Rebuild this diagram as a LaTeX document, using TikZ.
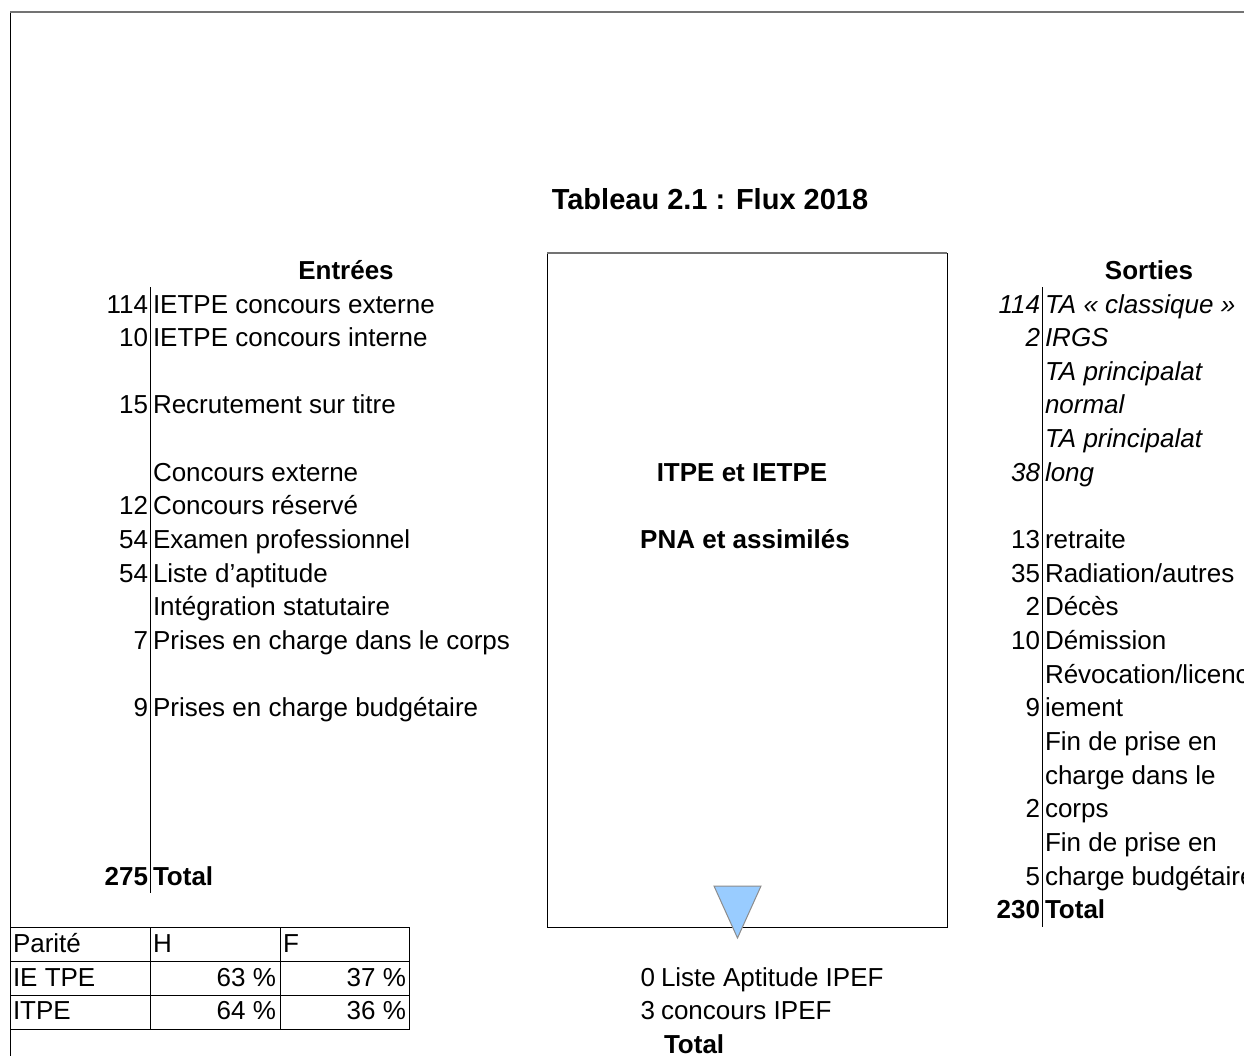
\documentclass[tikz,border=0pt]{standalone}
\usepackage{fontspec}
\setmainfont{Liberation Sans}
\begin{document}
\begin{tikzpicture}[x=0.5pt,y=-0.5pt,
  every node/.style={inner sep=0pt, outer sep=0pt, font=\fontsize{13}{15}\selectfont},
  num/.style={anchor=base east},
  txt/.style={anchor=base west},
  hdr/.style={anchor=base, font=\fontsize{13}{15}\selectfont\bfseries},
  it/.style={font=\fontsize{13}{15}\selectfont\itshape},
  bf/.style={font=\fontsize{13}{15}\selectfont\bfseries},
  rule/.style={line width=0.5pt, black},
  grayrule/.style={line width=0.6pt, black!55}]
\useasboundingbox (0,0) rectangle (1244,1056);
\clip (0,0) rectangle (1244,1056);
\fill[white] (0,0) rectangle (1244,1056);
% page frame
\draw[rule] (10,12) -- (10,1060);
\draw[grayrule] (10,12) -- (1250,12);
% title
\node[anchor=base, font=\fontsize{14.5}{17}\selectfont\bfseries] (title) at (710,209) {Tableau 2.1 : Flux 2018};
% central box
\coordinate (boxNW) at (547,253);
\coordinate (boxSE) at (947,927);
\draw[rule] (boxNW) rectangle (boxSE);
\draw[grayrule] (547,253) -- (947,253);
\node[hdr] (itpe) at (742,{313+33.65*5}) {ITPE et IETPE};
\node[hdr] (pna) at (745,{313+33.65*7}) {PNA et assimilés};
% triangle
\draw[draw=black!45, fill={rgb,255:red,153;green,204;blue,255}, line width=0.5pt]
  (714,886) -- (761,886) -- (737.5,938) -- cycle;
% Entrees
\newcommand\entrow[3]{%
  \node[num] (en#1) at (148,{313+33.65*#1}) {#2};
  \node[txt] (et#1) at (153,{313+33.65*#1}) {#3};}
\node[hdr] (enthdr) at (346,{313-33.65}) {Entrées};
\draw[rule] (150,287) -- (150,893);
\entrow{0}{114}{IETPE concours externe}
\entrow{1}{10}{IETPE concours interne}
\entrow{3}{15}{Recrutement sur titre}
\node[txt] (et5) at (153,{313+33.65*5}) {Concours externe};
\entrow{6}{12}{Concours réservé}
\entrow{7}{54}{Examen professionnel}
\entrow{8}{54}{Liste d’aptitude}
\node[txt] (et9) at (153,{313+33.65*9}) {Intégration statutaire};
\entrow{10}{7}{Prises en charge dans le corps}
\entrow{12}{9}{Prises en charge budgétaire}
\node[num,bf] (en17) at (148,{313+33.65*17}) {275};
\node[txt,bf] (et17) at (153,{313+33.65*17}) {Total};
% Sorties
\newcommand\sorrow[3]{%
  \node[num] (sn#1) at (1040,{313+33.65*#1}) {#2};
  \node[txt] (st#1) at (1045,{313+33.65*#1}) {#3};}
\newcommand\sortxt[2]{%
  \node[txt] (st#1) at (1045,{313+33.65*#1}) {#2};}
\node[hdr] (sorhdr) at (1149,{313-33.65}) {Sorties};
\draw[rule] (1042,287) -- (1042,927);
\node[num,it] (sn0) at (1040,{313}) {114};
\node[txt,it] (st0) at (1045,{313}) {TA « classique »};
\node[num,it] (sn1) at (1040,{313+33.65}) {2};
\node[txt,it] (st1) at (1045,{313+33.65}) {IRGS};
\node[txt,it] (st2) at (1045,{313+33.65*2}) {TA principalat};
\node[txt,it] (st3) at (1045,{313+33.65*3}) {normal};
\node[txt,it] (st4) at (1045,{313+33.65*4}) {TA principalat};
\node[num,it] (sn5) at (1040,{313+33.65*5}) {38};
\node[txt,it] (st5) at (1045,{313+33.65*5}) {long};
\sorrow{7}{13}{retraite}
\sorrow{8}{35}{Radiation/autres}
\sorrow{9}{2}{Décès}
\sorrow{10}{10}{Démission}
\sortxt{11}{Révocation/licenc}
\sorrow{12}{9}{iement}
\sortxt{13}{Fin de prise en}
\sortxt{14}{charge dans le}
\sorrow{15}{2}{corps}
\sortxt{16}{Fin de prise en}
\sorrow{17}{5}{charge budgétaire}
\node[num,bf] (sn18) at (1040,{313+33.65*18}) {230};
\node[txt,bf] (st18) at (1045,{313+33.65*18}) {Total};
% parity table
\draw[rule] (10,927) rectangle (409,1029);
\draw[rule] (10,961) -- (409,961);
\draw[rule] (10,995) -- (409,995);
\draw[rule] (150,927) -- (150,1029);
\draw[rule] (280,927) -- (280,1029);
\node[txt] (pA) at (13,952.4) {Parité};
\node[txt] (pH) at (153,952.4) {H};
\node[txt] (pF) at (283,952.4) {F};
\node[txt] (pB) at (13,986) {IE TPE};
\node[num] (pB1) at (276,986) {63 \%};
\node[num] (pB2) at (406,986) {37 \%};
\node[txt] (pC) at (13,1019.7) {ITPE};
\node[num] (pC1) at (276,1019.7) {64 \%};
\node[num] (pC2) at (406,1019.7) {36 \%};
% bottom list
\node[num] (bn1) at (655,986) {0};
\node[txt] (bt1) at (661,986) {Liste Aptitude IPEF};
\node[num] (bn2) at (655,1019.7) {3};
\node[txt] (bt2) at (661,1019.7) {concours IPEF};
\node[txt,bf] (bt3) at (664,1053.3) {Total};
\end{tikzpicture}
\end{document}
